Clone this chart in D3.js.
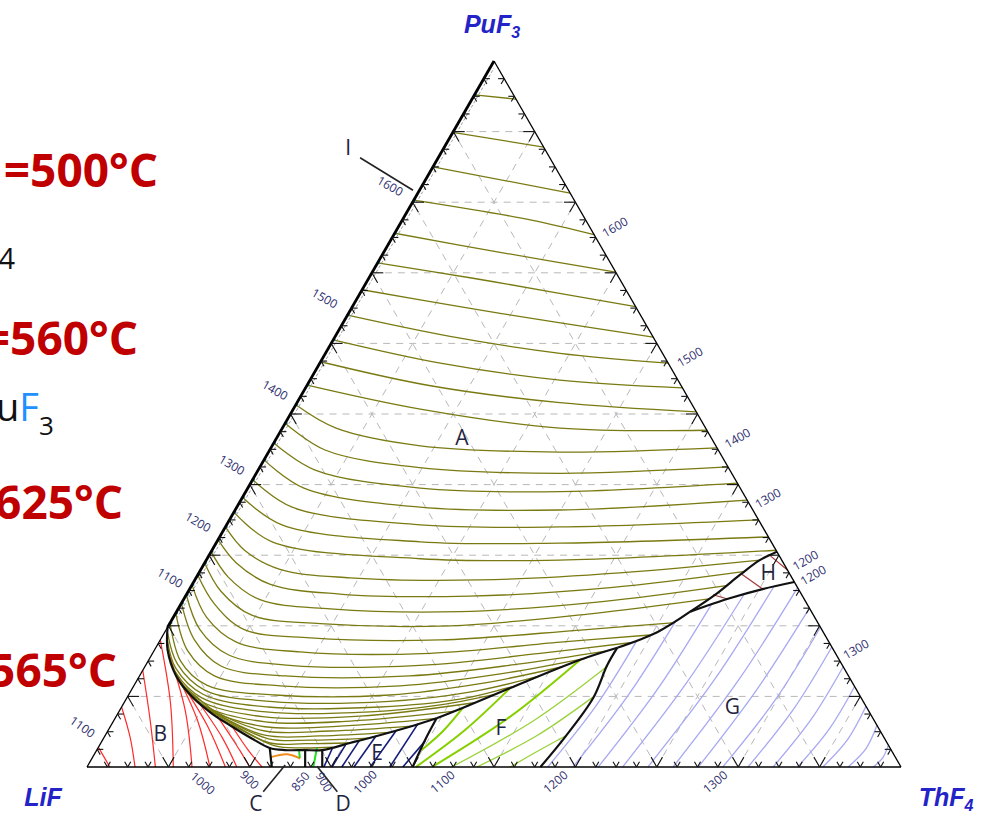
<!DOCTYPE html>
<html>
<head>
<meta charset="utf-8">
<script src="https://cdnjs.cloudflare.com/ajax/libs/d3/7.8.5/d3.min.js"></script>
<style>
  body { margin: 0; background: #fff; }
  svg { display: block; }
</style>
</head>
<body>
<div id="chart"></div>
<script>
// every point is [ThF4 mol%, PuF3 mol%], LiF is what is left

// liquidus isotherms, primary field A (PuF3)
var isoA = [
  { t: 1675, pts: [[0,95.2],[5.4,94.6]] },
  { t: 1650, pts: [[0,89.9],[12.2,87.8]] },
  { t: 1625, pts: [[0,85.0],[18.7,81.3]] },
  { t: 1600, pts: [[0,80.3],[15.7,77.5],[24.6,75.4]] },
  { t: 1575, pts: [[0,75.6],[14.3,72.9],[29.9,70.1]] },
  { t: 1550, pts: [[0,71.4],[12.4,69.3],[24.5,67.1],[34.8,65.2]] },
  { t: 1525, pts: [[0,67.6],[13.2,65.2],[26.7,62.9],[39.1,60.9]] },
  { t: 1500, pts: [[0,64.0],[14.1,61.0],[28.8,58.6],[42.8,57.2]] },
  { t: 1475, pts: [[0,60.5],[14.8,57.2],[30.7,54.8],[46.3,53.7]] },
  { t: 1450, pts: [[0,57.4],[15.2,54.0],[32.3,51.6],[49.7,50.3]] },
  { t: 1425, pts: [[0,54.1],[15.6,50.7],[34.1,48.0],[52.3,47.7]] },
  { t: 1400, pts: [[0,51.3],[6.6,48.0],[18.2,45.5],[35.8,44.6],[54.8,45.2]] },
  { t: 1375, pts: [[0,48.7],[6.8,44.9],[19.7,42.4],[37.3,41.6],[57.5,42.5]] },
  { t: 1350, pts: [[0,45.9],[6.9,42.1],[21.2,39.5],[38.6,39.0],[59.8,40.2]] },
  { t: 1325, pts: [[0,43.5],[6.9,39.5],[22.5,36.8],[39.9,36.4],[62.2,37.8]] },
  { t: 1300, pts: [[0,40.7],[6.8,36.8],[23.8,34.3],[41.1,34.0],[65.0,35.0]] },
  { t: 1275, pts: [[0,38.2],[6.8,34.3],[25.0,31.9],[42.2,31.7],[67.4,32.6]] },
  { t: 1250, pts: [[0,36.1],[6.8,31.9],[26.2,29.5],[43.4,29.3],[69.3,30.7]] },
  { t: 1225, pts: [[0,34.0],[4.0,30.7],[9.7,28.0],[18.9,26.8],[35.0,26.5],[51.7,27.5],[68.0,29.3]] },
  { t: 1200, pts: [[0,32.2],[3.9,28.9],[9.5,25.9],[18.8,24.5],[34.9,24.2],[51.6,25.4],[67.0,27.7]] },
  { t: 1175, pts: [[0,30.5],[3.9,26.9],[9.4,23.7],[18.7,22.4],[34.8,22.0],[51.3,23.4],[65.7,25.7]] },
  { t: 1150, pts: [[0,28.9],[4.0,24.9],[9.5,21.5],[18.5,20.3],[34.6,20.0],[51.0,21.7],[64.5,23.8]] },
  { t: 1125, pts: [[0,27.2],[4.1,23.1],[9.5,19.5],[18.3,18.3],[34.4,18.0],[50.9,19.4],[61.7,20.4]] },
  { t: 1100, pts: [[0,25.8],[4.1,21.2],[9.5,17.7],[18.0,16.3],[34.1,16.1],[49.3,17.7],[59.8,18.7]] },
  { t: 1075, pts: [[0,24.4],[4.1,19.5],[9.4,15.9],[17.7,14.4],[33.7,14.4],[47.6,16.1],[57.9,17.6]] },
  { t: 1050, pts: [[0,23.2],[4.2,18.0],[9.3,14.3],[17.9,12.9],[33.2,12.9],[45.9,14.6],[55.5,16.4]] },
  { t: 1025, pts: [[0,21.8],[4.2,16.4],[9.2,12.9],[18.0,11.5],[32.7,11.5],[44.2,13.2],[53.5,15.4]] },
  { t: 1000, pts: [[0,20.4],[4.0,15.0],[8.9,11.6],[18.0,10.2],[32.1,10.2],[42.4,11.8],[51.3,14.2]] },
  { t: 975, pts: [[0.4,19.0],[3.8,14.6],[9.0,10.9],[17.8,9.3],[32.5,9.3],[41.7,10.6],[49.2,12.9]] },
  { t: 950, pts: [[1.0,17.8],[3.9,14.0],[9.1,10.3],[18.0,8.5],[31.7,8.5],[41.0,9.6],[47.1,11.6]] },
  { t: 925, pts: [[1.5,16.7],[4.3,13.3],[9.2,9.8],[18.1,7.8],[30.9,7.8],[39.0,8.8],[45.0,10.3]] },
  { t: 900, pts: [[2.5,15.4],[4.9,12.6],[9.6,9.2],[18.3,7.1],[29.9,7.2],[43.0,9.1]] },
  { t: 875, pts: [[3.3,14.3],[5.7,11.8],[10.2,8.6],[18.7,6.4],[29.1,6.5],[41.2,7.9]] },
  { t: 850, pts: [[4.2,13.2],[6.6,10.9],[10.8,8.2],[19.0,5.7],[28.2,5.8],[39.5,6.9]] },
  { t: 825, pts: [[5.5,11.9],[8.7,9.8],[11.8,7.9],[19.3,5.1],[27.3,5.1],[37.0,5.8]] },
  { t: 800, pts: [[7.0,10.6],[12.3,7.5],[19.6,4.5],[26.4,4.4],[34.7,4.9]] },
  { t: 775, pts: [[8.8,9.3],[13.4,6.9],[20.3,4.0],[25.5,3.8],[32.5,4.1]] },
  { t: 750, pts: [[10.8,8.1],[14.8,6.1],[20.8,3.4],[25.2,3.3],[30.6,3.4]] },
  { t: 725, pts: [[13.3,6.7],[16.4,5.2],[21.6,3.0],[24.8,2.7],[28.8,2.8]] }
];

// field B (LiF)
var isoB = [
  [[0,2.8],[1.4,1.4],[2.8,0]],
  [[0,8.5],[3.2,4.2],[5.9,0]],
  [[0,13.7],[4.4,6.7],[8.4,0]],
  [[0,18.0],[5.7,9.1],[10.6,0]],
  [[1.6,16.6],[8.0,8.1],[12.9,0]],
  [[4.1,13.5],[10.2,6.7],[15.1,0]],
  [[6.4,11.2],[12.0,5.7],[17.0,0]],
  [[9.2,9.1],[14.5,4.2],[18.4,0]],
  [[12.4,7.2],[16.5,3.4],[20.0,0]],
  [[15.0,5.7],[18.6,2.4],[21.5,0]]
];

// field E
var isoE = [
  [[29.1,0],[28.8,2.8]],
  [[30.1,0],[30.2,3.3]],
  [[31.3,0],[31.6,3.8]],
  [[32.8,0],[33.3,4.4]],
  [[34.8,0],[35.4,5.1]],
  [[37.2,0],[37.6,6.1]],
  [[38.8,0],[39.7,3.7]]
];

// field F (first three drawn heavier)
var isoF = [
  [[39.9,2.4],[41.2,5.1],[42.0,8.4]],
  [[40.4,0],[43.8,5.2],[46.4,11.2]],
  [[42.4,0],[48.4,7.1],[53.0,15.2]],
  [[44.8,0],[51.7,6.7],[56.8,14.3]],
  [[47.9,0],[53.1,4.5],[57.2,9.9]],
  [[52.0,0],[54.3,2.3],[56.7,4.5]]
];

// field G (ThF4)
var isoG = [
  [[56.6,0],[58.2,8.7],[58.6,18.0]],
  [[59.7,0],[61.4,10.1],[62.0,20.8]],
  [[62.8,0],[64.6,11.2],[65.2,23.1]],
  [[65.8,0],[67.7,11.9],[68.5,24.5]],
  [[68.9,0],[70.9,12.4],[71.6,25.5]],
  [[72.0,0],[73.9,12.4],[74.6,25.4]],
  [[75.1,0],[76.8,10.9],[77.5,22.5]],
  [[78.1,0],[79.8,9.5],[80.2,19.8]],
  [[81.2,0],[82.7,8.2],[83.0,17.0]],
  [[84.3,0],[85.6,6.8],[85.8,14.2]],
  [[87.3,0],[88.5,5.4],[88.6,11.4]],
  [[90.4,0],[91.5,4.0],[91.4,8.6]],
  [[93.5,0],[94.4,2.6],[94.1,5.9]],
  [[96.6,0],[97.1,1.3],[96.9,3.1]]
];

// field H
var isoH = [
  [[64.7,24.4],[66.8,23.8]],
  [[66.8,27.3],[70.4,25.2]],
  [[69.0,29.9],[72.1,27.9]]
];

// small bits in C and D
var orangeC = [[21.9,1.4],[23.7,1.8],[25.6,1.2]];
var greenC = [[24.9,2.3],[25.5,1.3]];
var greenD = [[26.9,2.7],[27.8,0]];

// field boundaries
var boundaries = [
  [[0,19.8],[1.6,16.6],[4.5,12.9],[8.0,9.9],[11.5,7.6],[15.0,5.7],[18.3,4.0],[21.1,2.7],[23.1,2.4],[25.6,2.4],[27.7,2.4],[30.6,3.4],[33.7,4.5],[36.8,5.7],[39.5,6.9]],
  [[39.5,6.9],[42.0,8.4],[46.4,11.2],[53.0,15.2],[56.7,16.9]],
  [[56.7,16.9],[60.5,19.1],[63.1,22.0]],
  [[63.1,22.0],[65.1,24.6],[66.6,27.2],[68.0,29.3],[69.5,30.5]],
  [[21.1,2.7],[22.7,0]],
  [[25.6,2.4],[26.8,0]],
  [[27.7,2.4],[28.9,0]],
  [[39.5,6.9],[39.6,4.2],[40.0,0]],
  [[56.7,16.9],[56.7,14.4],[57.3,9.8],[56.6,4.2],[55.7,0]],
  [[63.1,22.0],[67.0,23.9],[70.4,25.2],[73.8,26.2]]
];

var regionLabels = [
  { name: 'A', at: [22.7,46.7] },
  { name: 'B', at: [6.6,4.8] },
  { name: 'C', at: [23.3,-5.1] },
  { name: 'D', at: [34.0,-5.1] },
  { name: 'E', at: [34.6,2.1] },
  { name: 'F', at: [48.0,5.7] },
  { name: 'G', at: [75.0,8.6] },
  { name: 'H', at: [69.9,27.6] },
  { name: 'I', at: [-11.8,87.8] }
];

var leaders = [
  [[23.4,-3.5],[24.2,0.3]],
  [[32.5,-3.5],[28.2,0.1]],
  [[-9.6,86.3],[-0.8,81.7]]
];

var tempLabels = [
  { text: '1600', at: [-3.9,82.3], rot: 30 },
  { text: '1500', at: [-4.0,66.4], rot: 30 },
  { text: '1400', at: [-3.6,53.4], rot: 30 },
  { text: '1300', at: [-3.6,42.8], rot: 30 },
  { text: '1200', at: [-3.7,34.7], rot: 30 },
  { text: '1100', at: [-3.2,26.8], rot: 30 },
  { text: '1100', at: [-3.4,5.7], rot: 35 },
  { text: '1600', at: [26.6,76.5], rot: -30 },
  { text: '1500', at: [45.0,58.1], rot: -30 },
  { text: '1400', at: [56.6,46.6], rot: -30 },
  { text: '1300', at: [64.6,38.1], rot: -30 },
  { text: '1200', at: [73.6,29.3], rot: -30 },
  { text: '1200', at: [75.6,27.2], rot: -30 },
  { text: '1300', at: [86.1,16.7], rot: -30 },
  { text: '1000', at: [15.4,-2.3], rot: 40 },
  { text: '900', at: [20.9,-1.8], rot: 45 },
  { text: '850', at: [27.2,-2.0], rot: -50 },
  { text: '900', at: [30.2,-2.1], rot: 60 },
  { text: '1000', at: [35.2,-2.1], rot: -45 },
  { text: '1100', at: [44.7,-2.1], rot: -40 },
  { text: '1200', at: [58.6,-2.1], rot: -40 },
  { text: '1300', at: [78.2,-2.1], rot: -40 }
];

var gridSteps = [10, 20, 30, 40, 50, 60, 70, 80, 90];

// ternary -> screen, through two linear scales
var xs = d3.scaleLinear().domain([0, 100]).range([87, 901]);
var ys = d3.scaleLinear().domain([0, 100]).range([767, 61]);
function px(d) { return xs(d[0] + d[1] / 2); }
function py(d) { return ys(d[1]); }

var smooth = d3.line().x(px).y(py).curve(d3.curveCatmullRom.alpha(0.5));
var straight = d3.line().x(px).y(py);

var svg = d3.select('#chart').append('svg')
  .attr('width', 986)
  .attr('height', 816);

// dashed grid
var grid = svg.append('g');
gridSteps.forEach(function (t) {
  var segs = [
    [[0, t], [100 - t, t]],
    [[t, 0], [t, 100 - t]],
    [[100 - t, 0], [0, 100 - t]]
  ];
  segs.forEach(function (s) {
    grid.append('path')
      .attr('d', straight(s))
      .style('fill', 'none')
      .style('stroke', '#b8b8b8')
      .style('stroke-width', 1)
      .style('stroke-dasharray', '7,6');
  });
});

function drawSet(lines, color, width) {
  svg.append('g').selectAll('path')
    .data(lines)
    .enter()
    .append('path')
    .attr('d', function (d) { return smooth(d.pts || d); })
    .style('fill', 'none')
    .style('stroke', color)
    .style('stroke-width', width);
}

drawSet(isoB, '#ff2a2a', 1.2);
drawSet(isoE, '#141c7a', 1.6);
drawSet(isoF.slice(0, 3), '#86d000', 2);
drawSet(isoF.slice(3), '#9ad23a', 1.3);
drawSet(isoG, '#a7a9f2', 1.3);
drawSet(isoH, '#a3393b', 1.2);
drawSet(isoA, '#7a7a12', 1.3);
drawSet([orangeC], '#f28c1c', 2);
drawSet([greenC, greenD], '#22dd22', 2);

// teal marks where isotherms leave the LiF-PuF3 edge
svg.append('g').selectAll('circle')
  .data(isoA.filter(function (d) { return d.pts[0][0] === 0; }))
  .enter()
  .append('circle')
  .attr('cx', function (d) { return px(d.pts[0]) + 1; })
  .attr('cy', function (d) { return py(d.pts[0]); })
  .attr('r', 1.4)
  .style('fill', '#2a9aa3');

// boundaries
drawSet(boundaries, '#111', 2.2);

// triangle sides
var sides = [
  { pts: [[0, 0], [100, 0]], w: 1.5 },
  { pts: [[100, 0], [0, 100]], w: 1.3 },
  { pts: [[0, 0], [0, 19.8]], w: 1.3 },
  { pts: [[0, 19.8], [0, 100]], w: 2.8 }
];
sides.forEach(function (s) {
  svg.append('path')
    .attr('d', straight(s.pts))
    .style('fill', 'none')
    .style('stroke', '#000')
    .style('stroke-width', s.w);
});
// thin sliver I along the edge
svg.append('path')
  .attr('d', straight([[0.5, 21], [0.5, 99]]))
  .style('fill', 'none')
  .style('stroke', '#888')
  .style('stroke-width', 0.8)
  .style('stroke-dasharray', '3,2');

// ticks every 2.5 %, longer every 10 %
var tickG = svg.append('g');
d3.range(2.5, 100, 2.5).forEach(function (t) {
  var s = (t % 10 === 0) ? 1.4 : 0.75;
  var arms = [
    [[t, 0], [t - s, s]], [[t, 0], [t, s]],
    [[0, t], [s, t]], [[0, t], [s, t - s]],
    [[100 - t, t], [100 - t - s, t]], [[100 - t, t], [100 - t, t - s]]
  ];
  arms.forEach(function (a) {
    tickG.append('path')
      .attr('d', straight(a))
      .style('stroke', '#111')
      .style('stroke-width', 1.1);
  });
});

// leader lines
leaders.forEach(function (l) {
  svg.append('path')
    .attr('d', straight(l))
    .style('stroke', '#222')
    .style('stroke-width', 1.6);
});

// temperature labels
svg.append('g').selectAll('text')
  .data(tempLabels)
  .enter()
  .append('text')
  .attr('transform', function (d) {
    return 'translate(' + px(d.at) + ',' + py(d.at) + ') rotate(' + d.rot + ')';
  })
  .attr('text-anchor', 'middle')
  .attr('dominant-baseline', 'central')
  .style('font-family', 'Open Sans, sans-serif')
  .style('font-size', '12px')
  .style('fill', '#2e2e6e')
  .text(function (d) { return d.text; });

// field letters
svg.append('g').selectAll('text')
  .data(regionLabels)
  .enter()
  .append('text')
  .attr('x', function (d) { return px(d.at); })
  .attr('y', function (d) { return py(d.at); })
  .attr('text-anchor', 'middle')
  .attr('dominant-baseline', 'central')
  .style('font-family', 'Open Sans, sans-serif')
  .style('font-size', '21px')
  .style('fill', '#1f2440')
  .text(function (d) { return d.name; });

// component names
function corner(xp, yp, main, sub) {
  var t = svg.append('text')
    .attr('x', xp).attr('y', yp)
    .attr('text-anchor', 'middle')
    .style('font-family', 'Liberation Sans, Arial, sans-serif')
    .style('font-weight', 'bold')
    .style('font-style', 'italic')
    .style('font-size', '25px')
    .style('fill', '#2323c8');
  t.append('tspan').text(main);
  if (sub) {
    t.append('tspan').attr('dy', 5).style('font-size', '16px').text(sub);
  }
}
corner(492, 33, 'PuF', '3');
corner(43, 806, 'LiF', null);
corner(946, 806, 'ThF', '4');

// cut-off slide text on the left
var redText = [
  { s: '=500°C', x: 158, y: 187 },
  { s: '=560°C', x: 138, y: 355 },
  { s: '625°C', x: 123, y: 519 },
  { s: '565°C', x: 117, y: 687 }
];
redText.forEach(function (r) {
  svg.append('text')
    .attr('x', r.x).attr('y', r.y)
    .attr('text-anchor', 'end')
    .style('font-family', 'Open Sans, sans-serif')
    .style('font-weight', 'bold')
    .style('font-size', '46px')
    .style('fill', '#c00000')
    .text(r.s);
});
svg.append('text')
  .attr('x', 15).attr('y', 269)
  .attr('text-anchor', 'end')
  .style('font-family', 'Open Sans, sans-serif')
  .style('font-size', '29px')
  .style('fill', '#111')
  .text('4');
var uf = svg.append('text')
  .attr('x', -4).attr('y', 421)
  .style('font-family', 'Open Sans, sans-serif')
  .style('font-size', '38px')
  .style('fill', '#111');
uf.append('tspan').text('u');
uf.append('tspan').style('fill', '#1e90ff').text('F');
uf.append('tspan').attr('dy', 14).style('font-size', '26px').text('3');
</script>
</body>
</html>
